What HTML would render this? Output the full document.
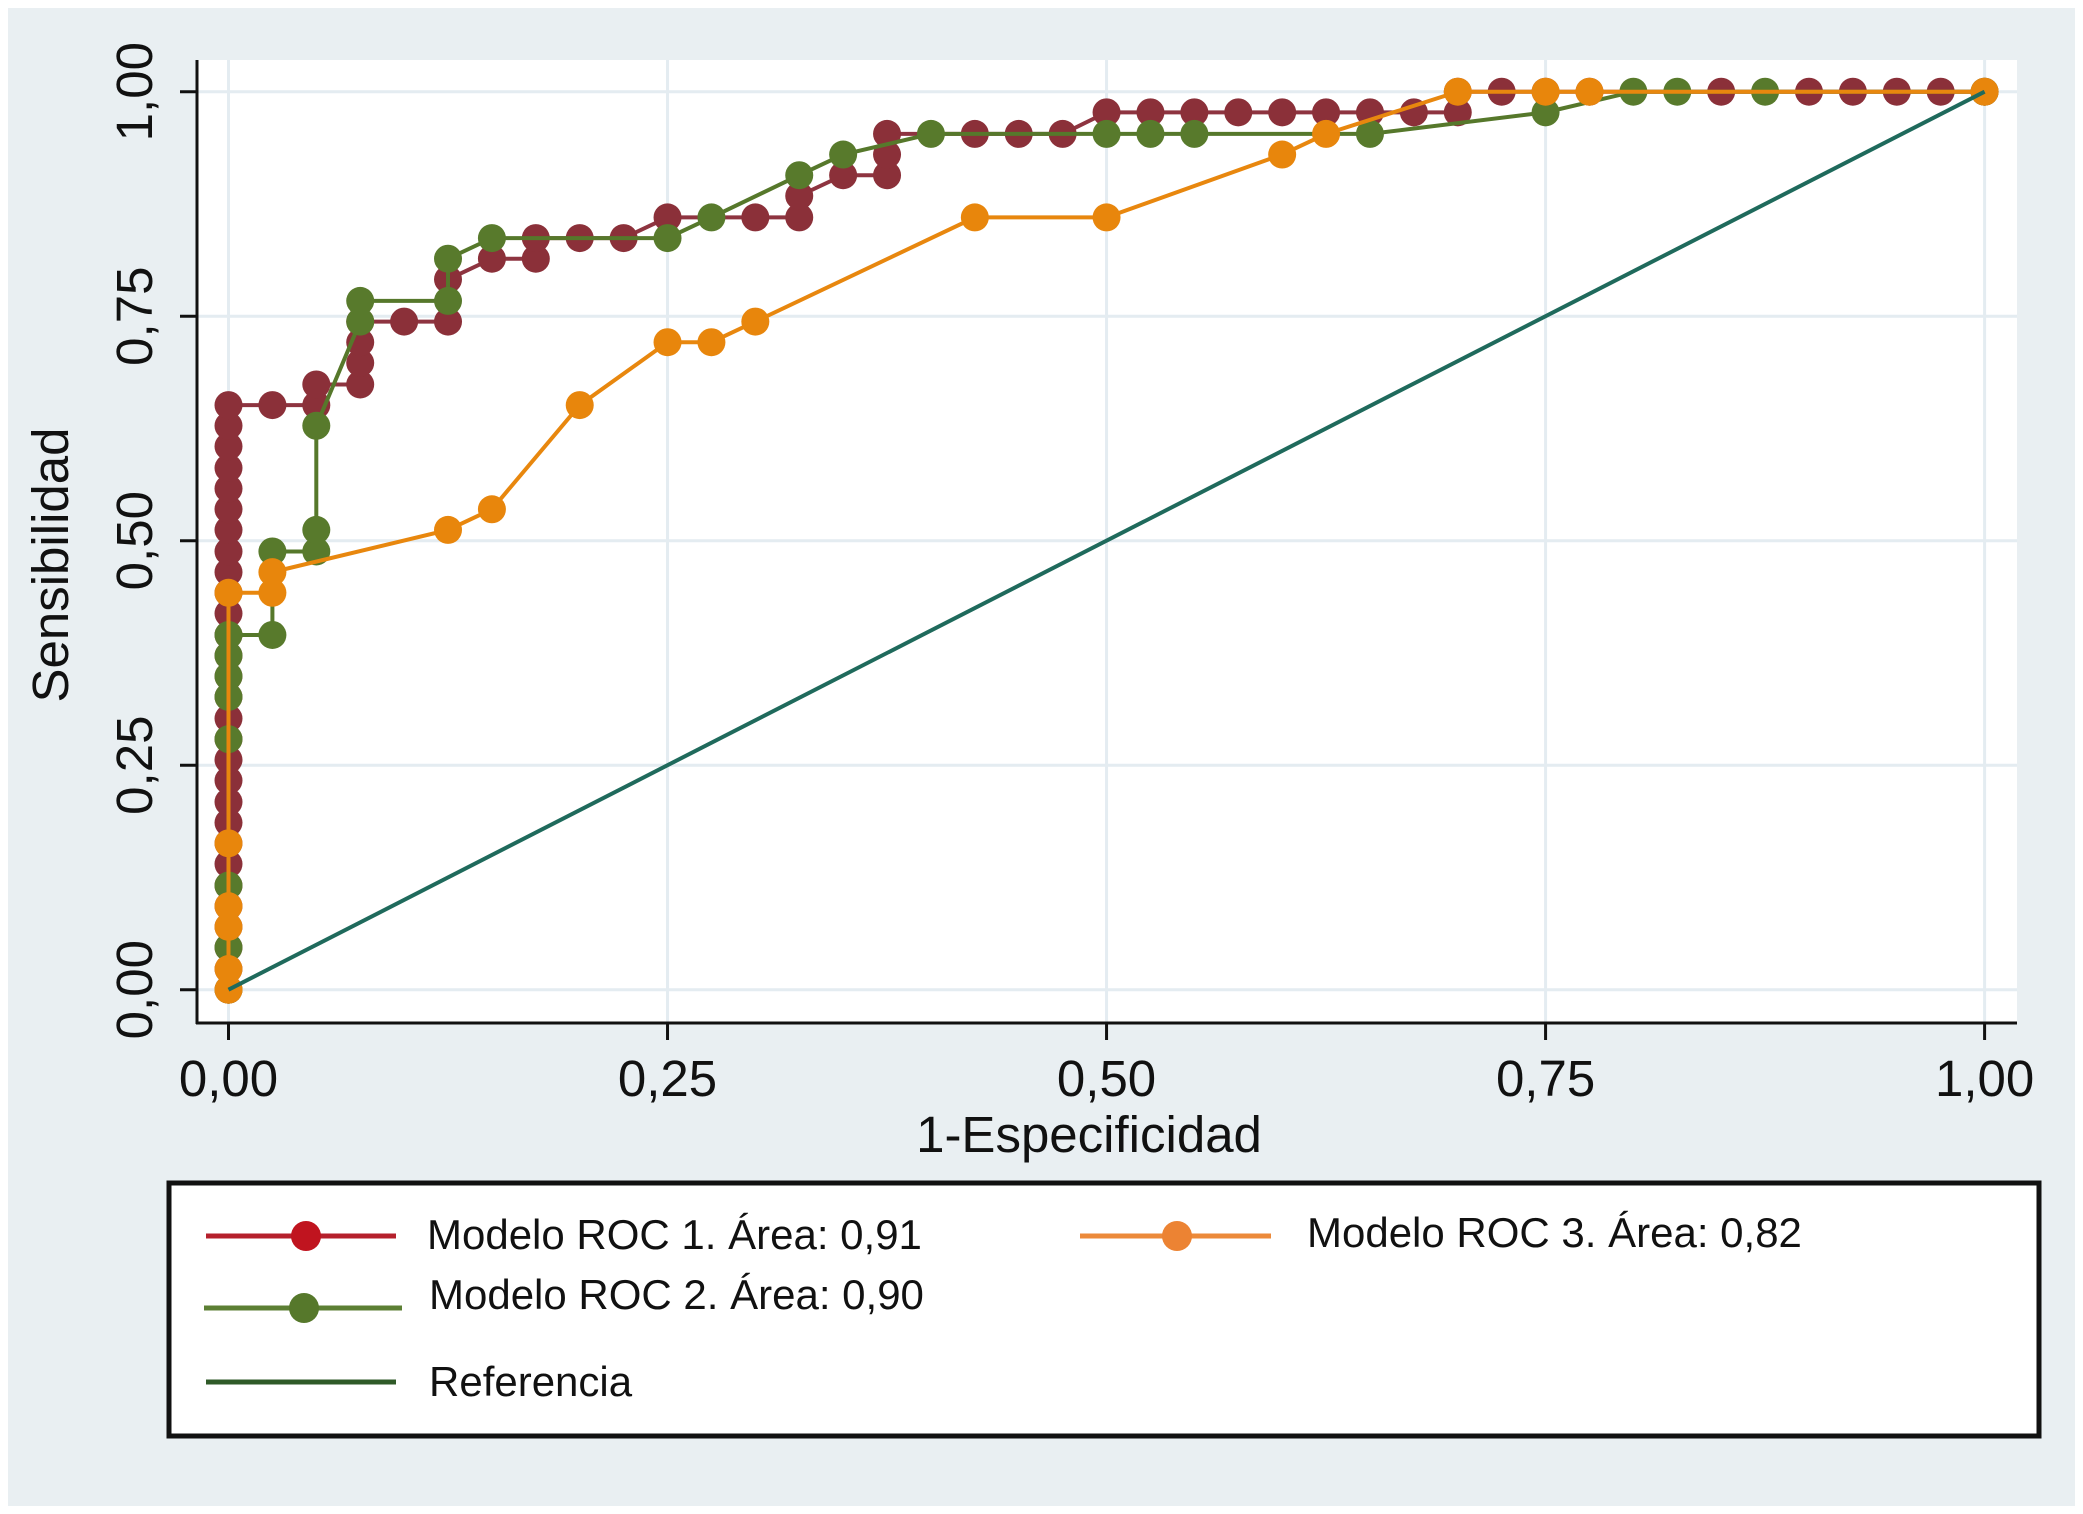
<!DOCTYPE html>
<html><head><meta charset="utf-8"><style>
html,body{margin:0;padding:0;background:#fff;}
svg{display:block;font-family:"Liberation Sans",sans-serif;}
</style></head><body>
<svg id="chart" width="2083" height="1514" viewBox="0 0 2083 1514">
<rect x="8" y="8" width="2067" height="1498" fill="#e9eff2"/>
<rect x="197" y="60" width="1820" height="963" fill="#fff"/>
<g id="grid"></g>
<g id="axes"></g>
<g id="series"></g>
<text x="1089" y="1152" font-size="51" text-anchor="middle" fill="#111">1-Especificidad</text>
<text transform="translate(68,565) rotate(-90)" font-size="51" text-anchor="middle" fill="#111">Sensibilidad</text>
<g>
<rect x="169" y="1183" width="1870" height="253" fill="#fff" stroke="#111" stroke-width="5"/>
<g>
<line x1="206" y1="1236" x2="396" y2="1236" stroke="#b5202c" stroke-width="5"/>
<circle cx="306" cy="1236" r="15" fill="#c0141f"/>
<text x="427" y="1249" font-size="42" fill="#111">Modelo ROC 1. Área: 0,91</text></g>
<g>
<line x1="1080" y1="1236" x2="1271" y2="1236" stroke="#ec8a3a" stroke-width="5"/>
<circle cx="1177" cy="1236" r="15" fill="#ec8333"/>
<text x="1307" y="1247" font-size="42" fill="#111">Modelo ROC 3. Área: 0,82</text></g>
<g>
<line x1="204" y1="1308" x2="402" y2="1308" stroke="#5c7f34" stroke-width="5"/>
<circle cx="304" cy="1308" r="15" fill="#56782b"/>
<text x="429" y="1309" font-size="42" fill="#111">Modelo ROC 2. Área: 0,90</text></g>
<g>
<line x1="206" y1="1382" x2="396" y2="1382" stroke="#2f5a28" stroke-width="5"/>
<text x="429" y="1396" font-size="42" fill="#111">Referencia</text></g>
</g>
</svg>
<script>
const tickValues = [0, 0.25, 0.5, 0.75, 1];
const tickLabels = ["0,00", "0,25", "0,50", "0,75", "1,00"];
const m1x = [0,0,0,0,0,0,0,0,0,0,0,0,0,0,0,0,0,0,0,0,0,0,0,0,0,0,0,0,0,0.025,0.05,0.05,0.075,0.075,0.075,0.075,0.1,0.125,0.125,0.15,0.175,0.175,0.2,0.225,0.25,0.3,0.325,0.325,0.35,0.375,0.375,0.375,0.425,0.45,0.475,0.5,0.525,0.55,0.575,0.6,0.625,0.65,0.675,0.7,0.7,0.725,0.75,0.775,0.85,0.9,0.925,0.95,0.975,1];
const m1y = [0,0.023,0.047,0.07,0.093,0.116,0.14,0.163,0.186,0.209,0.233,0.256,0.279,0.302,0.326,0.349,0.372,0.395,0.419,0.442,0.465,0.488,0.512,0.535,0.558,0.581,0.605,0.628,0.651,0.651,0.651,0.674,0.674,0.698,0.721,0.744,0.744,0.744,0.791,0.814,0.814,0.837,0.837,0.837,0.86,0.86,0.86,0.884,0.907,0.907,0.93,0.953,0.953,0.953,0.953,0.977,0.977,0.977,0.977,0.977,0.977,0.977,0.977,0.977,1,1,1,1,1,1,1,1,1,1];
const m2x = [0,0,0,0,0,0,0,0,0.025,0.025,0.05,0.05,0.05,0.075,0.075,0.125,0.125,0.15,0.25,0.275,0.325,0.35,0.4,0.5,0.525,0.55,0.65,0.75,0.8,0.825,0.875,1];
const m2y = [0,0.047,0.116,0.279,0.326,0.349,0.372,0.395,0.395,0.488,0.488,0.512,0.628,0.744,0.767,0.767,0.814,0.837,0.837,0.86,0.907,0.93,0.953,0.953,0.953,0.953,0.953,0.977,1,1,1,1];
const m3x = [0,0,0,0,0,0,0.025,0.025,0.125,0.15,0.2,0.25,0.275,0.3,0.425,0.5,0.6,0.625,0.7,0.75,0.775,1];
const m3y = [0,0.023,0.07,0.093,0.163,0.442,0.442,0.465,0.512,0.535,0.651,0.721,0.721,0.744,0.86,0.86,0.93,0.953,1,1,1,1];
const refX = [0, 1];
const refY = [0, 1];

const NS = "http://www.w3.org/2000/svg";
const X0 = 228.5, X1 = 1984.6, Y0 = 989.7, Y1 = 91.7;
const sx = v => X0 + (X1 - X0) * v;
const sy = v => Y0 + (Y1 - Y0) * v;
function mk(tag, attrs, parent) {
  const e = document.createElementNS(NS, tag);
  for (const k in attrs) e.setAttribute(k, attrs[k]);
  parent.appendChild(e);
  return e;
}
const grid = document.getElementById('grid');
const axes = document.getElementById('axes');
const series = document.getElementById('series');
tickValues.forEach((v, i) => {
  const gx = mk('line', {x1: sx(v), x2: sx(v), y1: 60, y2: 1023, stroke: '#e4ecf1', 'stroke-width': 3}, grid);
  
  
  const gy = mk('line', {x1: 197, x2: 2017, y1: sy(v), y2: sy(v), stroke: '#e4ecf1', 'stroke-width': 3}, grid);
  
  
  const tx = mk('line', {x1: sx(v), x2: sx(v), y1: 1023, y2: 1040, stroke: '#111', 'stroke-width': 3}, axes);
  
  
  const ty = mk('line', {x1: 180, x2: 197, y1: sy(v), y2: sy(v), stroke: '#111', 'stroke-width': 3}, axes);
  
  
  const lx = mk('text', {x: sx(v), y: 1096, 'font-size': 51, 'text-anchor': 'middle', fill: '#111'}, axes);
  lx.textContent = tickLabels[i];
  
  
  const ly = mk('text', {transform: `translate(152,${sy(v)}) rotate(-90)`, 'font-size': 51, 'text-anchor': 'middle', fill: '#111'}, axes);
  ly.textContent = tickLabels[i];
  
  
});
const ax1 = mk('line', {x1: 197, x2: 197, y1: 60, y2: 1024, stroke: '#111', 'stroke-width': 3}, axes);


const ax2 = mk('line', {x1: 196, x2: 2017, y1: 1023, y2: 1023, stroke: '#111', 'stroke-width': 3}, axes);



function drawSeries(xs, ys, color, markerColor, name) {
  const g = mk('g', {}, series);
  
  
  const pts = xs.map((x, i) => sx(x) + ',' + sy(ys[i])).join(' ');
  const pl = mk('polyline', {points: pts, fill: 'none', stroke: color, 'stroke-width': 4}, g);
  
  
  if (markerColor) xs.forEach((x, i) => {
    const c = mk('ellipse', {cx: sx(x), cy: sy(ys[i]), rx: 14, ry: 14, fill: markerColor}, g);
    
    
  });
}
drawSeries(m1x, m1y, '#8e3440', '#8b3039', 'model-1-series');
drawSeries(m2x, m2y, '#56782b', '#587a2c', 'model-2-series');
drawSeries(m3x, m3y, '#e8870e', '#e8860c', 'model-3-series');
drawSeries(refX, refY, '#1f6a5c', null, 'reference-line');
</script>
</body></html>
